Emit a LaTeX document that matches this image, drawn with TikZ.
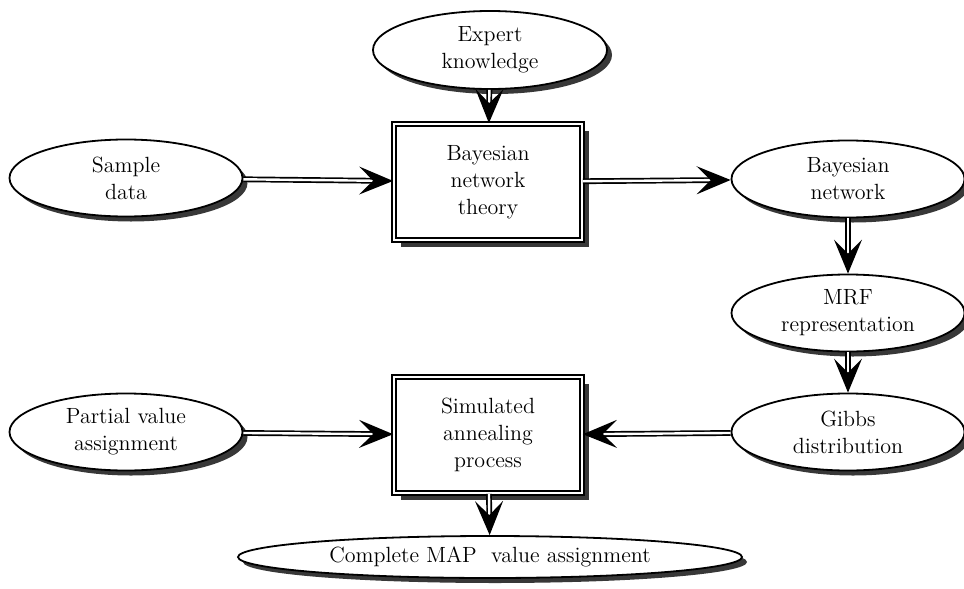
\documentclass[tikz,border=0pt]{standalone}
\usepackage{fontspec}
\usetikzlibrary{shapes.geometric,shadows,arrows.meta}
\begin{document}
\begin{tikzpicture}[x=0.5pt,y=-0.5pt,
  txt/.style={font=\fontsize{11}{13.5}\selectfont\addfontfeatures{LetterSpace=6}, align=center, text=black},
  oval/.style={txt, ellipse, draw=black, line width=0.9pt, fill=white, inner sep=0pt,
    minimum width=116.5pt, minimum height=38.5pt,
    drop shadow={shadow xshift=2.5pt, shadow yshift=-2.5pt, fill=black!78, opacity=1}},
  proc/.style={txt, rectangle, draw=black, line width=0.9pt, double, double distance=1.4pt, fill=white,
    inner sep=0pt, minimum width=94pt, minimum height=58pt,
    drop shadow={shadow xshift=3.5pt, shadow yshift=-3.5pt, fill=black!78, opacity=1}},
  flow/.style={draw=black, line width=0.85pt, double=white, double distance=1.2pt,
    -{Stealth[length=17pt, width=14pt, inset=7pt]}},
]
\useasboundingbox (0,0) rectangle (964,589);

% nodes
\node[oval, minimum width=117pt, minimum height=39pt] (ek) at (490,50) {Expert\\knowledge};
\node[oval] (sd) at (126,178) {Sample\\data};
\node[proc] (bnt) at (488,182) {Bayesian\\network\\theory};
\node[oval] (bn) at (848,179) {Bayesian\\network};
\node[oval] (mrf) at (848,313) {MRF\\representation};
\node[oval] (gd) at (848,432) {Gibbs\\distribution};
\node[oval] (pva) at (126,432) {Partial value\\assignment};
\node[proc] (sa) at (488,435) {Simulated\\annealing\\process};
\node[oval, minimum width=252pt, minimum height=21pt] (map) at (490,557) {Complete MAP\ \ value assignment};

% connectors
\draw[flow] (ek) -- (bnt);
\draw[flow] (sd) -- (bnt);
\draw[flow] (bnt) -- (bn);
\draw[flow] (bn) -- (mrf);
\draw[flow] (mrf) -- (gd);
\draw[flow] (pva) -- (sa);
\draw[flow] (gd) -- (sa);
\draw[flow] (sa) -- (map);
\end{tikzpicture}
\end{document}
